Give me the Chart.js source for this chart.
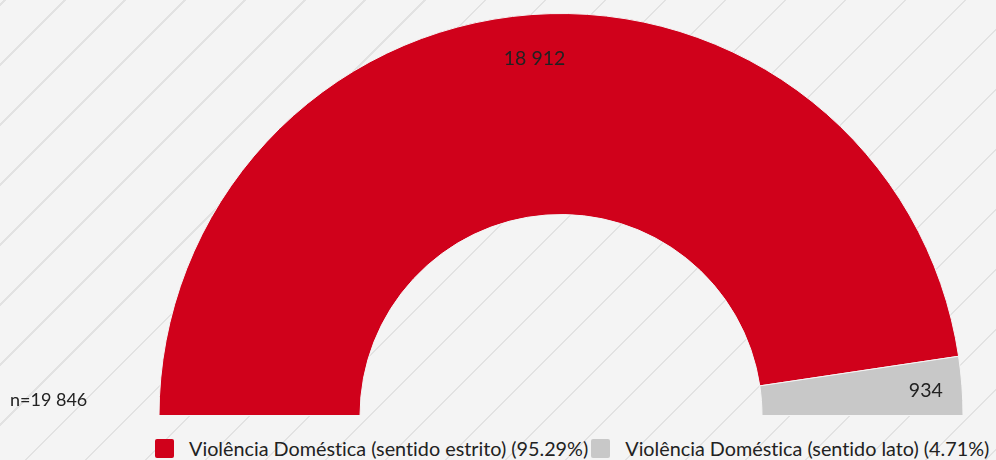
<!DOCTYPE html>
<html lang="pt">
<head>
<meta charset="utf-8">
<script src="https://cdn.jsdelivr.net/npm/chart.js@4/dist/chart.umd.min.js"></script>
<style>
  html, body { margin: 0; padding: 0; }
  body {
    width: 996px; height: 460px; overflow: hidden; position: relative;
    font-family: Lato, "Open Sans", sans-serif; color: #222;
    font-variant-ligatures: none;
    background-color: #f4f4f4;
    background-image: repeating-linear-gradient(135deg,
      #f4f4f4 0 2.8px, #e2e2e2 2.8px 4.3px, #f4f4f4 4.3px 42.43px);
  }
  #wrap { position: absolute; left: 0; top: 0; width: 996px; height: 416px; }
  #total { position: absolute; left: 10px; top: 388px; font-size: 18px; }
  #legenda { position: absolute; left: 155px; top: 436px; display: flex; align-items: center; font-size: 19.8px; white-space: nowrap; }
  .leg-item { display: flex; align-items: center; margin-right: 3px; }
  .leg-box { width: 19px; height: 19px; border-radius: 2px; margin-right: 15px; }
</style>
</head>
<body>
<div id="wrap"><canvas id="grafico"></canvas></div>
<div id="total"></div>
<div id="legenda"></div>
<script>
// dados
const categorias = ["Violência Doméstica (sentido estrito)", "Violência Doméstica (sentido lato)"];
const valores    = [18912, 934];
const cores      = ["#d0011b", "#c8c8c8"];

const total = valores.reduce((a, b) => a + b, 0);
const fmt = n => String(n).replace(/\B(?=(\d{3})+(?!\d))/g, " ");

document.getElementById("total").textContent = "n=" + fmt(total);

// legenda em HTML
document.getElementById("legenda").innerHTML = categorias.map((c, i) => `
  <div class="leg-item">
    <span class="leg-box" style="background:${cores[i]}"></span>
    <span>${c} (${(valores[i] / total * 100).toFixed(2)}%)</span>
  </div>`).join("");

// rótulos de valor dentro dos arcos
const rotulos = {
  id: "rotulos",
  afterDatasetsDraw(chart) {
    const { ctx } = chart;
    const meta = chart.getDatasetMeta(0);
    ctx.save();
    ctx.font = "19.5px Lato, sans-serif";
    ctx.fillStyle = "#222";
    ctx.textAlign = "center";
    ctx.textBaseline = "middle";
    meta.data.forEach((arc, i) => {
      const p = arc.getProps(["x", "y", "startAngle", "endAngle", "outerRadius"], true);
      const ang = (p.startAngle + p.endAngle) / 2;
      const r = p.outerRadius * (i === 0 ? 0.89 : 0.91);
      ctx.fillText(fmt(valores[i]), p.x + Math.cos(ang) * r, p.y + Math.sin(ang) * r + (i === 0 ? 0 : 2));
    });
    ctx.restore();
  }
};

new Chart(document.getElementById("grafico"), {
  type: "doughnut",
  data: {
    labels: categorias,
    datasets: [{
      data: valores,
      backgroundColor: cores,
      borderColor: "#f4f4f4",
      borderWidth: 1,
    }]
  },
  options: {
    responsive: true,
    maintainAspectRatio: false,
    animation: false,
    rotation: -90,
    circumference: 180,
    cutout: "50%",
    layout: { padding: { left: 126, top: 13, right: 0, bottom: 0 } },
    plugins: { legend: { display: false }, tooltip: { enabled: false } }
  },
  plugins: [rotulos]
});
</script>
</body>
</html>
